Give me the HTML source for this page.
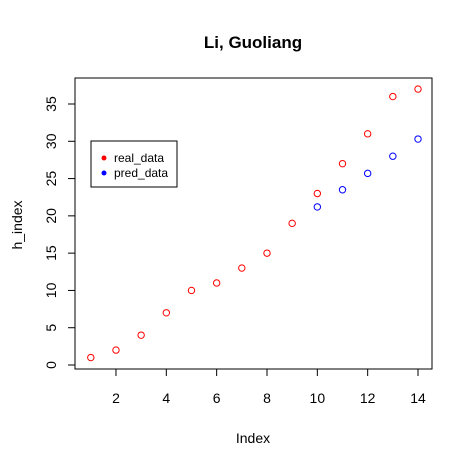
<!DOCTYPE html>
<html><head><meta charset="utf-8"><style>
body{margin:0;background:#fff}
svg{display:block;font-family:"Liberation Sans",Arial,sans-serif}
</style></head><body>
<svg id="chart" width="472" height="467" viewBox="0 0 472 467">
<rect x="0" y="0" width="472" height="467" fill="#fff"/>
<text x="253" y="48" text-anchor="middle" font-size="17" font-weight="bold">Li, Guoliang</text>
<rect x="75" y="78" width="357" height="291" fill="none" stroke="#000" stroke-width="1"/>
<g id="xaxis"></g>
<g id="yaxis"></g>
<text x="253" y="443" text-anchor="middle" font-size="14">Index</text>
<text x="0" y="0" transform="translate(22,225) rotate(-90)" text-anchor="middle" font-size="14">h_index</text>
<g id="points"></g>
<g>
<rect x="91" y="141" width="86" height="46" fill="#fff" stroke="#000"/>
<circle cx="104" cy="158" r="2.5" fill="#f00"/>
<text x="114" y="162" font-size="12">real_data</text>
<circle cx="104" cy="173" r="2.5" fill="#00f"/>
<text x="114" y="177" font-size="12">pred_data</text>
</g>
</svg>
<script>
const indices=[1,2,3,4,5,6,7,8,9,10,11,12,13,14];
const realData=[1,2,4,7,10,11,13,15,19,23,27,31,36,37];
const predIndices=[10,11,12,13,14];
const predData=[21.2,23.5,25.7,28.0,30.3];
const xTicks=[2,4,6,8,10,12,14];
const yTicks=[0,5,10,15,20,25,30,35];
const NS="http://www.w3.org/2000/svg";
function sx(v){return 90.8+(v-1)*25.17;}
function sy(v){return 365-v*7.457;}
function mk(t,a){const e=document.createElementNS(NS,t);for(const k in a)e.setAttribute(k,a[k]);return e;}
const xa=document.getElementById('xaxis'),ya=document.getElementById('yaxis'),pts=document.getElementById('points');
xa.appendChild(mk('line',{x1:sx(xTicks[0]),x2:sx(xTicks[xTicks.length-1]),y1:369,y2:369,stroke:'#000'}));
xTicks.forEach(t=>{
 const l=mk('line',{x1:sx(t),x2:sx(t),y1:369,y2:376,stroke:'#000'});
 
 
 xa.appendChild(l);
 const tx=mk('text',{x:sx(t),y:403,'text-anchor':'middle','font-size':14});
 tx.textContent=t;
 
 
 xa.appendChild(tx);
});
ya.appendChild(mk('line',{x1:75,x2:75,y1:sy(yTicks[0]),y2:sy(yTicks[yTicks.length-1]),stroke:'#000'}));
yTicks.forEach(t=>{
 const l=mk('line',{x1:68,x2:75,y1:sy(t),y2:sy(t),stroke:'#000'});
 
 
 ya.appendChild(l);
 const tx=mk('text',{x:0,y:0,transform:`translate(56,${sy(t)}) rotate(-90)`,'text-anchor':'middle','font-size':14});
 tx.textContent=t;
 
 
 ya.appendChild(tx);
});
indices.forEach((x,i)=>{
 const c=mk('circle',{cx:sx(x),cy:sy(realData[i]),r:3.2,fill:'none',stroke:'#f00','stroke-width':1});
 
 
 pts.appendChild(c);
});
predIndices.forEach((x,i)=>{
 const c=mk('circle',{cx:sx(x),cy:sy(predData[i]),r:3.2,fill:'none',stroke:'#00f','stroke-width':1});
 
 
 pts.appendChild(c);
});
</script>
</body></html>
